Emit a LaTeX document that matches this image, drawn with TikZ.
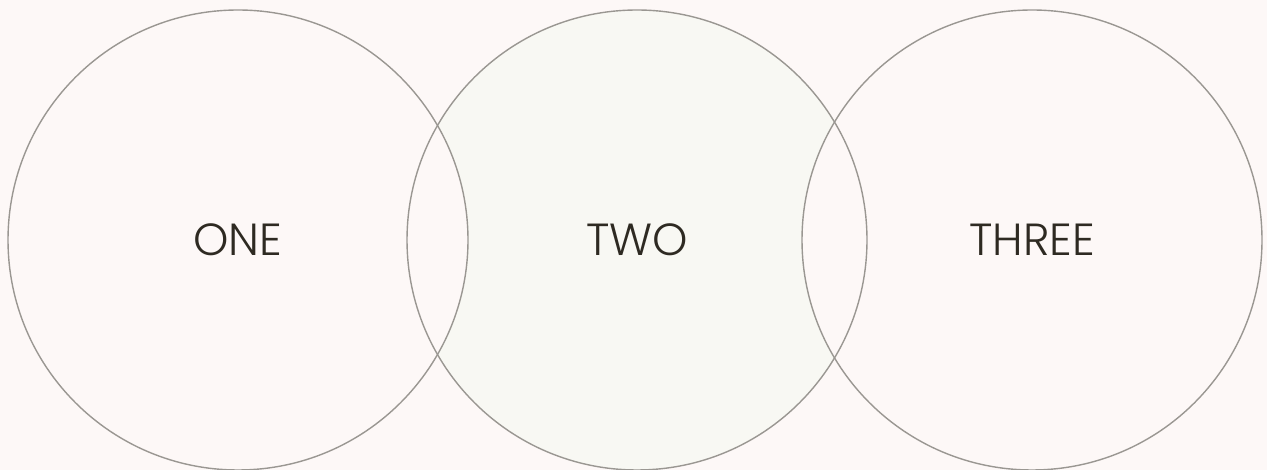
\documentclass[tikz,border=0pt]{standalone}
\usepackage{fontspec}
\setmainfont{Poppins}[UprightFont=* Light]
\definecolor{paper}{HTML}{FDF8F7}
\definecolor{midfill}{HTML}{F8F8F3}
\definecolor{ringline}{HTML}{9A9792}
\definecolor{inkdark}{HTML}{2E2A22}
\tikzset{
  ring/.style={circle,draw=ringline,line width=1.4pt,minimum size=460pt,inner sep=0pt},
  ringlabel/.style={text=inkdark,font=\fontsize{45}{54}\selectfont}
}
\begin{document}
\begin{tikzpicture}[x=1pt,y=1pt]
  \fill[paper] (0,0) rectangle (1267,470);
  \useasboundingbox (0,0) rectangle (1267,470);
  % middle ring first, outer rings cover the overlaps
  \node[ring,draw=none,fill=midfill] (two) at (637,230) {};
  \node[ring,fill=paper] (one) at (238,230) {};
  \node[ring,fill=paper] (three) at (1032,230) {};
  \draw[ringline,line width=1.4pt] (two) circle[radius=230pt];
  \node[ringlabel] (lblone) at (one.center) {ONE};
  \node[ringlabel] (lbltwo) at (two.center) {TWO};
  \node[ringlabel] (lblthree) at (three.center) {THREE};
\end{tikzpicture}
\end{document}
